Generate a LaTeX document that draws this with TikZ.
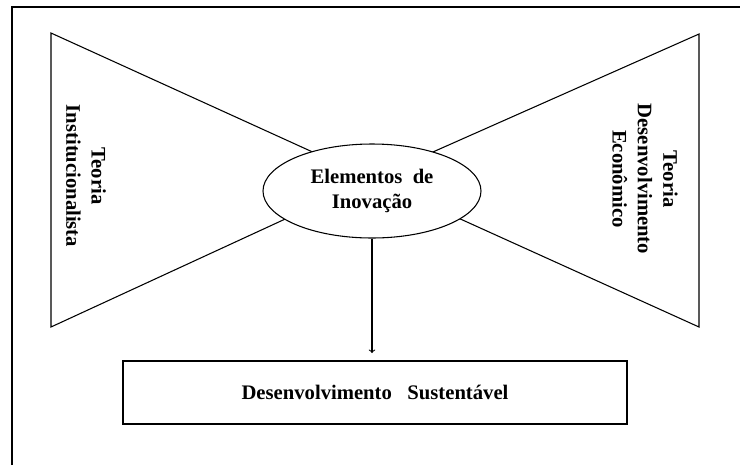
\documentclass[tikz,border=0pt]{standalone}
\usepackage{fontspec}
\setmainfont{Liberation Serif}
\usetikzlibrary{shapes.geometric}

\tikzset{
  lbl/.style={font=\bfseries\fontsize{15.5}{19}\selectfont, align=center},
  sidetext/.style={lbl, rotate=-90},
}

\begin{document}
\begin{tikzpicture}[x=0.75pt, y=-0.75pt, line width=0.8pt]
  % Picture size
  \useasboundingbox (0,0) rectangle (740,465);

  % Outer frame (only left and top edges show)
  \draw[line width=1.1pt] (12,465) -- (12,7) -- (740,7);

  % Corners of the two triangles and the point where they meet
  \coordinate (LT) at (51,33);
  \coordinate (LB) at (51,327);
  \coordinate (RT) at (699,34);
  \coordinate (RB) at (699,327);
  \coordinate (meet) at (372,179);

  % Draw the triangles
  \foreach \a/\b in {LT/LB, RT/RB} {
    \draw (meet) -- (\a) -- (\b) -- cycle;
  }

  % Ellipse in the middle
  \node[draw, fill=white, ellipse, inner sep=0pt, minimum width=163.5pt,
        minimum height=70.5pt, lbl] (elem) at (372,191)
        {Elementos\ \ de\\Inova\c{c}\~ao};

  % Side texts
  \node[sidetext] (teoInst) at (86,176) {Teoria\\Institucionalista};
  \node[sidetext] (teoDes) at (645,179) {Teoria\\Desenvolvimento\\Econ\^omico};

  % Bottom box
  \node[draw, minimum width=378pt, minimum height=47.25pt, lbl] (desenv)
        at (375,392.5) {Desenvolvimento\ \ \ Sustent\'avel};

  % Arrow down to the box
  \coordinate (seta) at (372,353);
  \draw[->] (elem.south) -- (seta);

\end{tikzpicture}
\end{document}
